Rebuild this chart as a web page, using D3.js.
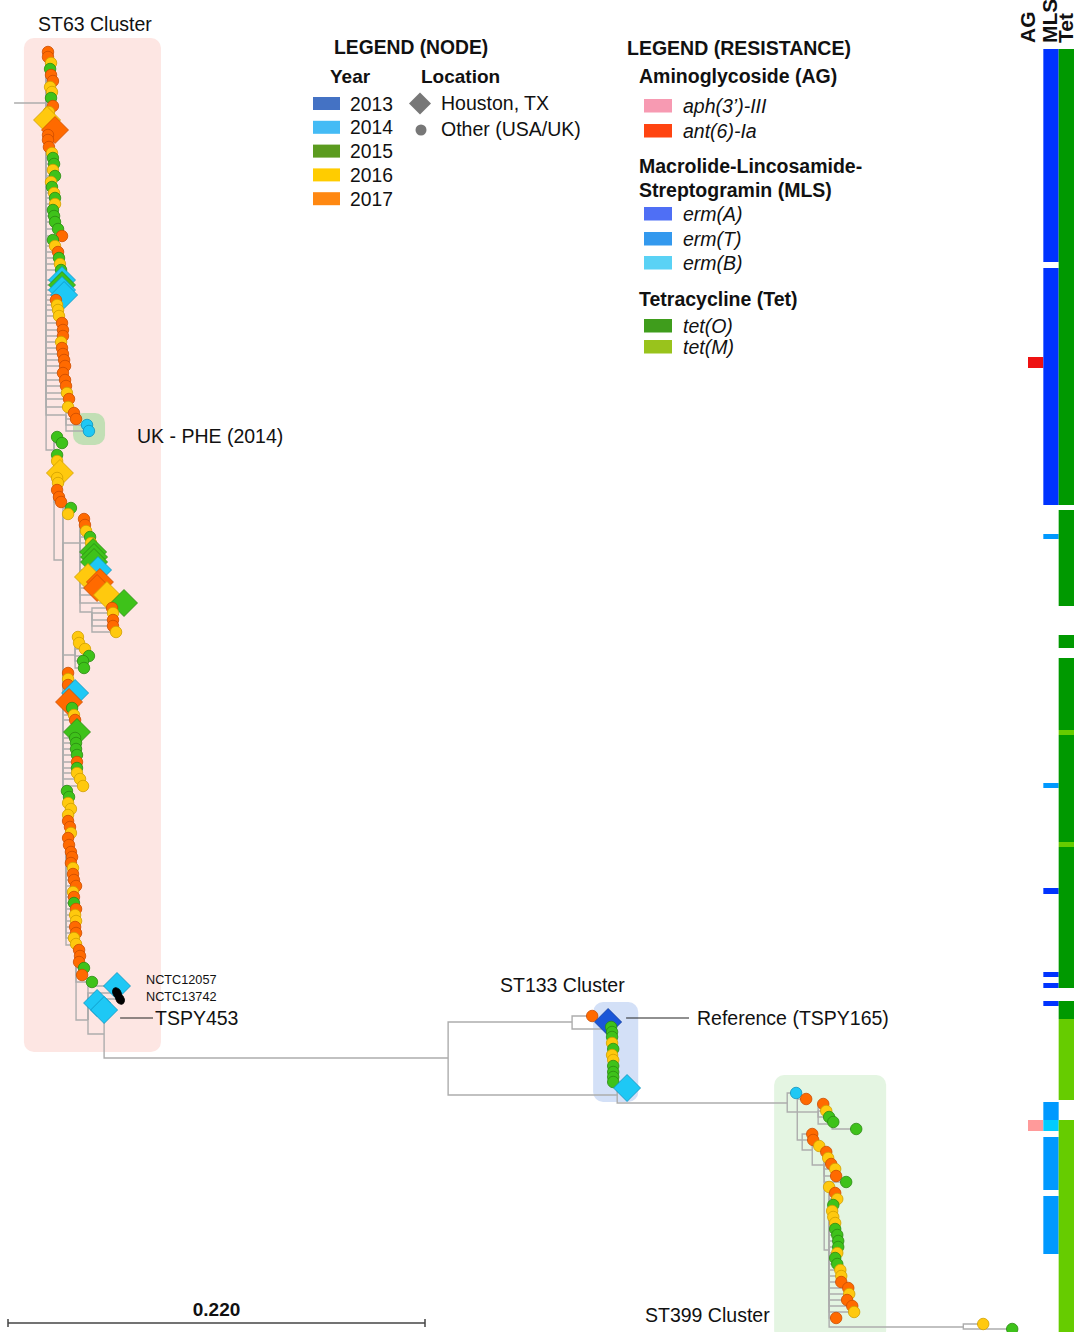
<!DOCTYPE html>
<html><head><meta charset="utf-8">
<script src="https://cdn.jsdelivr.net/npm/d3@7"></script>
<style>
body{margin:0;background:#fff;}
svg{display:block;font-family:"Liberation Sans",Arial,Helvetica,sans-serif;}
</style>
</head><body>
<svg id="chart" width="1087" height="1332"></svg>
<script>
// ---------------- DATA ----------------
// distances in units of 0.001 substitutions/site; rows = vertical tip order units
const years = [2013, 2014, 2015, 2016, 2017];
const locations = ["Houston, TX", "Other (USA/UK)"];
const scaleBarValue = 220;            // 0.220
const scaleBarLabel = "0.220";

// internal nodes: [id, parent, distance, row]
const innerNodes = [
  ["root", null, 3.2, 10.3],
  ["n1", "root", 20.1, 10.3],
  ["nuk", "n1", 30.6, 41.5],
  ["n2", "n1", 24.3, 45.0],
  ["n3", "n2", 29.0, 56.0],
  ["n4", "n3", 38.0, 54.3],
  ["n4b", "n4", 44.3, 61.2],
  ["n5", "n3", 35.4, 65.5],
  ["n6", "n3", 30.6, 79.0],
  ["n7", "n6", 35.9, 94.5],
  ["n8", "n7", 42.2, 102.0],
  ["n9", "n8", 50.7, 103.4],
  ["n10", "n9", 232.2, 105.8],
  ["n11", "n10", 297.6, 102.2],
  ["n11b", "n11", 317.2, 102.9],
  ["n12", "n10", 321.4, 109.5],
  ["n13", "n12", 411.1, 110.3],
  ["n14", "n13", 416.4, 111.2],
  ["n15", "n14", 427.4, 111.2],
  ["n15b", "n15", 434.8, 112.4],
  ["n16", "n14", 419.0, 114.0],
  ["n17", "n16", 424.3, 115.0],
  ["n18", "n17", 430.6, 116.5],
  ["n19", "n18", 433.2, 125.0],
  ["n20", "n19", 504.0, 132.7]
];

// tips: [parent, distance, row, year, location]  H = Houston, O = other, R = reference strain
const st63Tips = [
  ["n1",21.1,5.2,2017,"O"],["n1",21.1,5.7,2017,"O"],["n1",22.7,6.3,2016,"O"],["n1",22.2,6.9,2015,"O"],
  ["n1",22.7,7.5,2017,"O"],["n1",23.7,8.1,2017,"O"],["n1",22.2,8.7,2016,"O"],["n1",23.2,9.2,2016,"O"],
  ["n1",22.7,9.8,2015,"O"],["n1",23.7,10.6,2017,"O"],["n1",21.6,11.2,2016,"O"],["n1",20.6,12.0,2016,"H"],
  ["n1",24.8,13.0,2017,"H"],["n1",21.1,13.5,2017,"O"],["n1",21.1,14.0,2017,"O"],["n1",21.6,14.7,2017,"O"],
  ["n1",23.2,15.3,2016,"O"],["n1",23.7,15.8,2015,"O"],["n1",24.3,16.4,2015,"O"],["n1",23.7,17.0,2016,"O"],
  ["n1",24.8,17.6,2015,"O"],["n1",22.7,18.2,2016,"O"],["n1",23.2,18.7,2015,"O"],["n1",24.3,19.3,2016,"O"],
  ["n1",24.8,19.8,2015,"O"],["n1",24.8,20.4,2016,"O"],["n1",23.7,21.0,2015,"O"],["n1",24.3,21.6,2015,"O"],
  ["n1",24.8,22.2,2015,"O"],["n1",26.4,22.9,2015,"O"],["n1",28.5,23.6,2017,"O"],["n1",23.7,24.0,2015,"O"],
  ["n1",24.8,24.6,2016,"O"],["n1",26.4,25.2,2017,"O"],["n1",26.9,25.8,2015,"O"],["n1",27.4,26.4,2016,"O"],
  ["n1",28.0,27.0,2015,"O"],["n1",28.5,28.0,2014,"H"],["n1",28.5,28.5,2015,"H"],["n1",28.5,29.0,2014,"H"],
  ["n1",29.6,29.5,2014,"H"],["n1",25.3,30.0,2017,"O"],["n1",25.9,30.5,2016,"O"],["n1",26.4,31.0,2016,"O"],
  ["n1",26.9,31.6,2016,"O"],["n1",28.5,32.3,2017,"O"],["n1",29.0,33.0,2017,"O"],["n1",29.0,33.6,2017,"O"],
  ["n1",28.0,34.2,2016,"O"],["n1",28.5,34.8,2017,"O"],["n1",29.0,35.4,2017,"O"],["n1",29.6,36.0,2017,"O"],
  ["n1",30.1,36.6,2017,"O"],["n1",29.0,37.3,2017,"O"],["n1",30.1,38.0,2017,"O"],["n1",30.6,38.6,2017,"O"],
  ["n1",31.1,39.3,2016,"O"],["n1",32.2,39.9,2017,"O"],["n1",31.7,40.7,2016,"O"],
  ["nuk",34.8,41.3,2017,"O"],["nuk",35.9,41.9,2017,"O"],["nuk",41.7,42.5,2014,"O"],["nuk",42.7,43.1,2014,"O"],
  ["n2",25.9,43.7,2015,"O"],["n2",28.5,44.3,2015,"O"],["n2",25.9,45.5,2015,"O"],["n2",25.9,46.1,2016,"O"],
  ["n2",27.4,47.3,2016,"H"],["n2",25.9,47.8,2016,"O"],["n2",26.4,48.3,2016,"O"],["n2",25.9,49.0,2017,"O"],
  ["n2",26.9,49.7,2017,"O"],["n2",28.0,50.2,2017,"O"],
  ["n3",33.2,50.8,2015,"O"],["n3",31.7,51.4,2016,"O"],
  ["n4",40.1,51.9,2017,"O"],["n4",40.6,52.5,2017,"O"],["n4",41.2,53.1,2016,"O"],["n4",43.3,53.7,2015,"O"],
  ["n4",43.8,54.3,2016,"O"],["n4",44.9,55.2,2015,"H"],["n4",45.4,55.7,2015,"H"],["n4",45.4,56.2,2015,"H"],
  ["n4",47.5,57.0,2014,"H"],["n4",42.2,57.7,2016,"H"],["n4",48.5,58.2,2017,"H"],["n4",47.0,58.8,2017,"H"],
  ["n4",52.2,59.5,2016,"H"],["n4",61.2,60.3,2015,"H"],
  ["n4b",54.9,60.8,2017,"O"],["n4b",55.4,61.3,2016,"O"],["n4b",55.4,62.0,2017,"O"],["n4b",55.4,62.6,2017,"O"],
  ["n4b",57.0,63.2,2016,"O"],
  ["n5",36.9,63.7,2016,"O"],["n5",37.5,64.3,2016,"O"],["n5",40.6,64.9,2016,"O"],["n5",42.7,65.6,2015,"O"],
  ["n5",39.6,66.1,2015,"O"],["n5",40.1,66.8,2015,"O"],
  ["n3",31.7,67.3,2017,"O"],["n3",31.7,67.9,2016,"O"],["n3",31.7,68.5,2017,"O"],["n3",35.4,69.3,2014,"H"],
  ["n3",32.2,70.2,2017,"H"],["n3",33.8,70.8,2015,"O"],["n3",34.8,71.5,2016,"O"],["n3",35.4,72.0,2017,"O"],
  ["n3",36.4,73.2,2015,"H"],["n3",35.4,73.8,2015,"O"],["n3",35.9,74.3,2015,"O"],["n3",35.9,74.9,2015,"O"],
  ["n3",36.4,75.5,2015,"O"],["n3",36.4,76.2,2017,"O"],["n3",36.4,76.8,2015,"O"],["n3",36.4,77.3,2016,"O"],
  ["n3",38.0,77.9,2016,"O"],["n3",39.6,78.6,2016,"O"],
  ["n6",31.1,79.1,2015,"O"],["n6",32.2,79.7,2015,"O"],["n6",31.7,80.3,2016,"O"],["n6",33.2,80.9,2016,"O"],
  ["n6",31.7,81.5,2016,"O"],["n6",31.7,82.1,2017,"O"],["n6",32.7,82.7,2017,"O"],["n6",33.2,83.3,2016,"O"],
  ["n6",31.7,83.8,2017,"O"],["n6",32.2,84.5,2017,"O"],["n6",33.2,85.2,2017,"O"],["n6",33.8,85.7,2017,"O"],
  ["n6",33.2,86.3,2017,"O"],["n6",34.3,86.8,2016,"O"],["n6",34.3,87.4,2017,"O"],["n6",34.8,88.0,2017,"O"],
  ["n6",35.9,88.6,2017,"O"],["n6",34.3,89.2,2016,"O"],["n6",34.8,89.7,2017,"O"],["n6",34.8,90.3,2015,"O"],
  ["n6",35.9,90.9,2017,"O"],["n6",35.4,91.5,2016,"O"],["n6",35.9,92.1,2016,"O"],["n6",35.4,92.7,2017,"O"],
  ["n6",35.9,93.3,2017,"O"],["n6",34.8,93.8,2016,"O"],
  ["n7",35.9,94.4,2016,"O"],["n7",37.5,95.0,2017,"O"],["n7",38.0,95.6,2017,"O"],["n7",37.5,96.2,2017,"O"],
  ["n7",40.1,96.8,2015,"O"],["n7",39.1,97.5,2017,"O"],["n7",44.3,98.2,2015,"O"],
  ["n8",57.5,98.6,2014,"H"],["n8",57.5,99.3,null,"R"],["n8",59.1,99.9,null,"R"],["n8",47.0,100.3,2014,"H"],
  ["n9",50.7,101.0,2014,"H"]
];

const st133Tips = [
  ["n11",308.2,101.6,2017,"O"],
  ["n11b",316.6,102.2,2013,"H"],["n11b",318.2,102.7,2015,"O"],["n11b",318.7,103.2,2015,"O"],["n11b",318.7,103.7,2015,"O"],
  ["n11b",318.7,104.3,2016,"O"],["n11b",319.3,104.9,2015,"O"],["n11b",318.7,105.5,2016,"O"],["n11b",319.3,106.0,2016,"O"],
  ["n11b",319.3,106.6,2015,"O"],["n11b",319.3,107.2,2015,"O"],["n11b",319.3,107.7,2015,"O"],["n11b",319.3,108.2,2015,"O"],
  ["n12",326.6,108.8,2014,"H"]
];

const st399Tips = [
  ["n13",415.8,109.3,2014,"O"],["n14",421.1,109.9,2017,"O"],
  ["n15",430.1,110.4,2017,"O"],["n15",431.7,111.1,2016,"O"],["n15",433.2,111.7,2015,"O"],
  ["n15b",435.4,112.2,2015,"O"],["n15b",447.5,112.9,2015,"O"],
  ["n16",424.3,113.4,2017,"O"],["n16",424.8,114.0,2017,"O"],["n17",428.0,114.6,2016,"O"],
  ["n18",431.7,115.2,2017,"O"],["n18",432.7,115.8,2016,"O"],["n18",434.3,116.4,2017,"O"],["n18",436.4,116.9,2016,"O"],
  ["n18",436.9,117.6,2017,"O"],["n18",442.2,118.2,2015,"O"],
  ["n19",433.2,118.7,2016,"O"],["n19",436.4,119.3,2017,"O"],["n19",437.5,119.9,2016,"O"],["n19",435.4,120.5,2015,"O"],
  ["n19",434.8,121.1,2016,"O"],["n19",435.4,121.7,2016,"O"],["n19",436.4,122.3,2016,"O"],["n19",436.4,122.9,2015,"O"],
  ["n19",437.5,123.5,2015,"O"],["n19",438.0,124.1,2015,"O"],["n19",438.0,124.7,2015,"O"],["n19",437.5,125.3,2016,"O"],
  ["n19",436.4,125.8,2015,"O"],["n19",437.5,126.4,2015,"O"],["n19",439.1,127.0,2016,"O"],["n19",439.6,127.6,2016,"O"],
  ["n19",439.6,128.2,2017,"O"],["n19",443.3,128.8,2017,"O"],["n19",443.8,129.4,2016,"O"],["n19",442.7,130.0,2017,"O"],
  ["n19",445.4,130.6,2017,"O"],["n19",446.4,131.2,2016,"O"],["n19",436.9,131.8,2017,"O"],
  ["n20",514.5,132.4,2016,"O"],["n20",529.8,132.9,2015,"O"]
];

// clade highlight ranges: [label, distance range, row range]
const cladeRanges = [
  ["ST63 Cluster", [8.4, 80.7], [3.8, 105.2]],
  ["UK - PHE (2014)", [34.3, 51.2], [41.3, 44.5]],
  ["ST133 Cluster", [308.7, 332.5], [100.2, 110.2]],
  ["ST399 Cluster", [404.2, 463.3], [107.5, 134.0]]
];

// resistance genes per column: [rowStart, rowEnd, gene]
const resistanceColumns = ["AG", "MLS", "Tet"];
const agSegments = [[35.7, 36.8, "ant(6)-Ia"], [112.0, 113.1, "aph(3’)-III"]];
const mlsSegments = [
  [4.9, 26.2, "erm(A)"], [26.8, 50.5, "erm(A)"], [53.4, 53.9, "erm(T)"], [78.3, 78.8, "erm(T)"],
  [88.8, 89.4, "erm(A)"], [97.2, 97.7, "erm(A)"], [98.3, 98.8, "erm(A)"], [100.1, 100.6, "erm(A)"],
  [110.2, 112.0, "erm(T)"], [112.0, 113.1, "erm(B)"], [113.7, 119.0, "erm(T)"], [119.6, 125.4, "erm(T)"]
];
const tetSegments = [
  [4.9, 50.5, "tet(O)"], [51.0, 60.6, "tet(O)"], [63.5, 64.8, "tet(O)"], [65.8, 73.0, "tet(O)"],
  [73.0, 73.5, "tet(M)"], [73.5, 84.2, "tet(O)"], [84.2, 84.7, "tet(M)"], [84.7, 98.8, "tet(O)"],
  [100.1, 101.9, "tet(O)"], [101.9, 110.0, "tet(M)"], [112.0, 133.2, "tet(M)"]
];

const resistanceGroups = [
  [["Aminoglycoside (AG)"], ["aph(3’)-III", "ant(6)-Ia"]],
  [["Macrolide-Lincosamide-", "Streptogramin (MLS)"], ["erm(A)", "erm(T)", "erm(B)"]],
  [["Tetracycline (Tet)"], ["tet(O)", "tet(M)"]]
];

// ---------------- STYLES ----------------
const yearSwatch = {2013:"#4472c4", 2014:"#44bbf5", 2015:"#5b9b1f", 2016:"#ffcc00", 2017:"#ff8811"};
const nodeFill = {2013:["#1a56d8","#0e3a9c"], 2014:["#1ec8f5","#0e93bf"], 2015:["#3ec21a","#2b8a12"],
                  2016:["#ffc90e","#d19f00"], 2017:["#ff6a00","#cc4d00"], ref:["#000000","#000000"]};
const geneBar = {"aph(3’)-III":"#ff9a9a","ant(6)-Ia":"#ee1111","erm(A)":"#0033ff","erm(T)":"#0099ff",
                 "erm(B)":"#00ccff","tet(O)":"#009900","tet(M)":"#66cc00"};
const geneSwatch = {"aph(3’)-III":"#f79ab2","ant(6)-Ia":"#ff4411","erm(A)":"#4f6ff5","erm(T)":"#3399ee",
                    "erm(B)":"#5ad2f5","tet(O)":"#3f9d1c","tet(M)":"#99c31c"};
const cladeFill = ["#fde6e3", "#c2dfb5", "#d3e0f7", "#e4f5e2"];
const FONT = "\"Liberation Sans\", Arial, Helvetica, sans-serif";
const headerBaselineX = {AG: 1035, MLS: 1057, Tet: 1073};

// ---------------- SCALES ----------------
const svg = d3.select("#chart");
const x = d3.scaleLinear().domain([0, 220]).range([8, 425]);
const y = d3.scaleLinear().domain([0, 133.2]).range([0, 1332]);
const col = d3.scaleBand().domain(resistanceColumns).range([1028, 1074]);

// build node map
const nodes = new Map();
innerNodes.forEach(([id, p, d, r]) => nodes.set(id, {id, parent: p, d, r}));
const tips = [...st63Tips, ...st133Tips, ...st399Tips].map(([p, d, r, yr, loc]) => ({parent: p, d, r, year: yr, loc}));

// ---------------- CLADE HIGHLIGHTS ----------------
const gBg = svg.append("g");
gBg.selectAll("rect").data(cladeRanges).join("rect")
  .attr("x", c => x(c[1][0])).attr("y", c => y(c[2][0]))
  .attr("width", c => x(c[1][1]) - x(c[1][0]))
  .attr("height", c => y(c[2][1]) - y(c[2][0]))
  .attr("rx", 10).attr("ry", 10)
  .attr("fill", (c, i) => cladeFill[i]);

// ---------------- BRANCHES ----------------
const children = [...innerNodes.filter(n => n[1]).map(n => nodes.get(n[0])), ...tips];
const gLinks = svg.append("g").attr("fill", "none").attr("stroke", "#adadad").attr("stroke-width", 1.4);
gLinks.selectAll("path").data(children).join("path")
  .attr("d", c => {
    const p = nodes.get(c.parent);
    return `M${x(p.d)},${y(p.r)}V${y(c.r)}H${x(c.d)}`;
  });

// ---------------- TIP NODES ----------------
const diamond = h => `M0,${-h}L${h},0L0,${h}L${-h},0Z`;
const gNodes = svg.append("g");
const sorted = tips.slice().sort((a, b) => a.r - b.r);
gNodes.selectAll("path").data(sorted).join("path")
  .attr("transform", t => `translate(${x(t.d)},${y(t.r)})${t.loc === "R" ? " rotate(-30) scale(0.85,1.15)" : ""}`)
  .attr("d", t => t.loc === "H" ? diamond(13.5) : d3.symbol(d3.symbolCircle, t.loc === "R" ? 72 : 104)())
  .attr("fill", t => nodeFill[t.year ?? "ref"][0])
  .attr("stroke", t => nodeFill[t.year ?? "ref"][1])
  .attr("stroke-width", 0.8);

// ---------------- TEXT LABELS ----------------
function label(txt, tx, ty, size, opts = {}) {
  return svg.append("text").attr("x", tx).attr("y", ty).text(txt)
    .attr("font-size", size).attr("font-family", FONT)
    .attr("font-weight", opts.bold ? "bold" : "normal")
    .attr("font-style", opts.italic ? "italic" : "normal")
    .attr("text-anchor", opts.anchor || "start").attr("fill", "#111");
}
label(cladeRanges[0][0], 38, 31, 19.5);
label(cladeRanges[1][0], 137, 443, 19.5);
label(cladeRanges[2][0], 500, 992, 19.5);
label(cladeRanges[3][0], 645, 1322, 19.5);

// TSPY453 & reference labels
const tspy = tips.find(t => t.parent === "n9");
svg.append("line").attr("x1", x(tspy.d) + 16).attr("x2", 153).attr("y1", 1018).attr("y2", 1018).attr("stroke", "#222").attr("stroke-width", 1.2);
label("TSPY453", 155, 1025, 19.5);
const refTip = tips.find(t => t.parent === "n11b");
svg.append("line").attr("x1", x(refTip.d) + 18).attr("x2", 689).attr("y1", 1018).attr("y2", 1018).attr("stroke", "#222").attr("stroke-width", 1.2);
label("Reference (TSPY165)", 697, 1025, 19.5);
label("NCTC12057", 146, 984, 12.7);
label("NCTC13742", 146, 1001, 12.7);

// ---------------- SCALE BAR ----------------
const sb = svg.append("g").attr("stroke", "#444").attr("stroke-width", 1.5);
sb.append("line").attr("x1", x(0)).attr("x2", x(scaleBarValue)).attr("y1", 1323).attr("y2", 1323);
sb.append("line").attr("x1", x(0)).attr("x2", x(0)).attr("y1", 1319).attr("y2", 1327);
sb.append("line").attr("x1", x(scaleBarValue)).attr("x2", x(scaleBarValue)).attr("y1", 1319).attr("y2", 1327);
label(scaleBarLabel, (x(0) + x(scaleBarValue)) / 2, 1316, 19, {bold: true, anchor: "middle"});

// ---------------- RESISTANCE STRIPS ----------------
const strips = [[agSegments, "AG"], [mlsSegments, "MLS"], [tetSegments, "Tet"]];
strips.forEach(([segs, c]) => {
  svg.append("g").selectAll("rect").data(segs).join("rect")
    .attr("x", col(c)).attr("width", col.bandwidth())
    .attr("y", s => y(s[0])).attr("height", s => y(s[1]) - y(s[0]))
    .attr("fill", s => geneBar[s[2]]);
});
resistanceColumns.forEach(c => {
  svg.append("text").text(c)
    .attr("transform", `translate(${headerBaselineX[c]},43) rotate(-90)`)
    .attr("font-size", 21).attr("font-weight", "bold").attr("font-family", FONT).attr("fill", "#111");
});

// ---------------- NODE LEGEND ----------------
label("LEGEND (NODE)", 334, 54, 19.3, {bold: true});
label("Year", 330, 83, 19, {bold: true});
label("Location", 421, 83, 19, {bold: true});
const gy = svg.append("g");
years.forEach((yr, i) => {
  const top = 97 + i * 23.8;
  gy.append("rect").attr("x", 313).attr("y", top).attr("width", 27).attr("height", 13).attr("fill", yearSwatch[yr]);
  label(String(yr), 350, top + 13.5, 19.3);
});
svg.append("path").attr("transform", "translate(420,103.5)").attr("d", diamond(11)).attr("fill", "#777");
svg.append("circle").attr("cx", 421).attr("cy", 130).attr("r", 5.5).attr("fill", "#777");
label(locations[0], 441, 110, 19.5);
label(locations[1], 441, 136, 19.5);

// ---------------- RESISTANCE LEGEND ----------------
label("LEGEND (RESISTANCE)", 627, 55, 19.5, {bold: true});
const titleY = [[83], [173, 197], [306]];
const swatchY = [[99, 124], [207, 232, 256], [319, 340]];
resistanceGroups.forEach(([titles, genes], gi) => {
  titles.forEach((t, ti) => label(t, 639, titleY[gi][ti], 19.5, {bold: true}));
  genes.forEach((g, k) => {
    const top = swatchY[gi][k];
    svg.append("rect").attr("x", 644).attr("y", top).attr("width", 28).attr("height", 13.5).attr("fill", geneSwatch[g]);
    label(g, 683, top + 14, 19.5, {italic: true});
  });
});
</script>
</body></html>
